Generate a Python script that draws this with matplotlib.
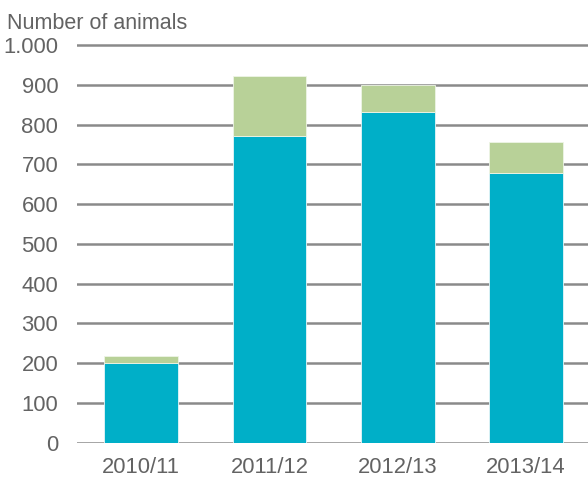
import matplotlib
matplotlib.use("Agg")
import matplotlib.pyplot as plt

# data
seasons = ["2010/11", "2011/12", "2012/13", "2013/14"]
lower = [200, 772, 832, 678]
upper = [17, 150, 67, 77]
y_ticks = [0, 100, 200, 300, 400, 500, 600, 700, 800, 900, 1000]
y_labels = ["0", "100", "200", "300", "400", "500", "600", "700", "800", "900", "1.000"]

BLUE = "#00afc8"
GREEN = "#b8d198"
GRID = "#8a8a8a"
TEXT = "#636363"

plt.rcParams["font.family"] = ["Liberation Sans", "DejaVu Sans"]

fig = plt.figure(figsize=(5.88, 4.78), dpi=100)
ax = fig.add_axes([0.131, 0.0738, 0.873, 0.8404])

x = list(range(len(seasons)))
ax.bar(x, lower, width=0.575, color=BLUE, edgecolor="#e6f6f8", linewidth=0.6, zorder=3)
ax.bar(x, upper, width=0.575, bottom=lower, color=GREEN, edgecolor="#eef5e6",
       linewidth=0.6, zorder=3)

# horizontal grid lines
for t in y_ticks:
    ax.axhline(t, color=GRID, linewidth=1.8, zorder=1)

ax.set_xlim(-0.5, 3.5)
ax.set_ylim(0, 1010)
ax.set_yticks(y_ticks)
ax.set_yticklabels(y_labels)
ax.set_xticks(x)
ax.set_xticklabels(seasons)
ax.tick_params(axis="both", length=0, labelsize=15.8, colors=TEXT)
ax.tick_params(axis="y", pad=13.5)
ax.tick_params(axis="x", pad=10.5)
for s in ax.spines.values():
    s.set_visible(False)

fig.text(0.012, 0.9387, "Number of animals", fontsize=15.5, color=TEXT, va="baseline")

fig.savefig("out.png", dpi=100)
